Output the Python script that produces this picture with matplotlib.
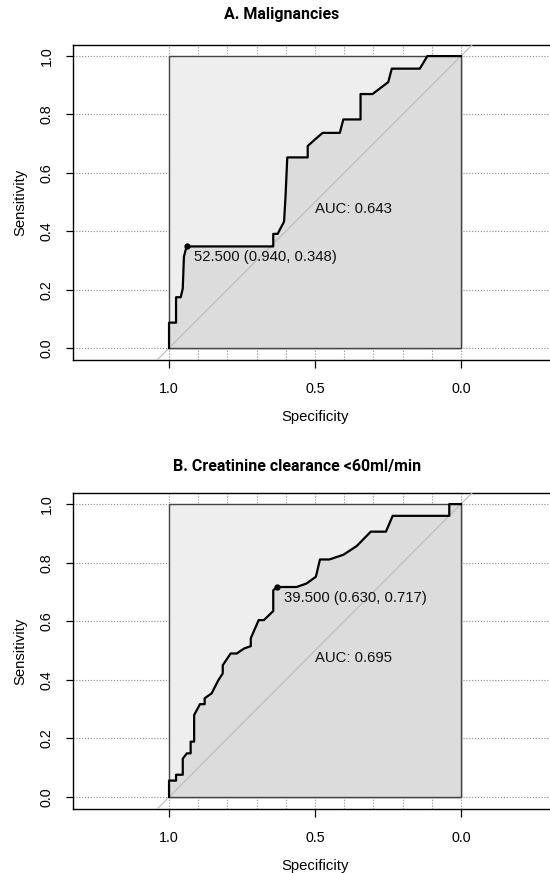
import matplotlib
matplotlib.use("Agg")
import matplotlib.pyplot as plt

plt.rcParams['font.family'] = ['Liberation Sans', 'DejaVu Sans']

# ROC curve vertices (specificity, sensitivity)
spec_a = [1.0, 1.0, 0.976, 0.976, 0.960, 0.953, 0.949, 0.940, 0.643, 0.643,
          0.628, 0.606, 0.601, 0.595, 0.525, 0.525, 0.505, 0.474, 0.415, 0.403,
          0.344, 0.344, 0.303, 0.278, 0.249, 0.237, 0.141, 0.115, 0.0]
sens_a = [0.0, 0.087, 0.087, 0.174, 0.174, 0.204, 0.313, 0.348, 0.348, 0.391,
          0.391, 0.433, 0.518, 0.653, 0.653, 0.692, 0.710, 0.737, 0.737, 0.783,
          0.783, 0.870, 0.870, 0.889, 0.911, 0.957, 0.957, 1.0, 1.0]

spec_b = [1.0, 1.0, 0.976, 0.976, 0.953, 0.953, 0.939, 0.926, 0.926, 0.914,
          0.914, 0.894, 0.878, 0.878, 0.854, 0.831, 0.816, 0.816, 0.789, 0.768,
          0.743, 0.720, 0.720, 0.693, 0.675, 0.643, 0.643, 0.630, 0.563, 0.529,
          0.497, 0.483, 0.451, 0.403, 0.357, 0.309, 0.257, 0.234, 0.040, 0.040, 0.0]
sens_b = [0.0, 0.056, 0.056, 0.076, 0.076, 0.131, 0.149, 0.149, 0.189, 0.189,
          0.280, 0.317, 0.317, 0.337, 0.354, 0.399, 0.422, 0.450, 0.490, 0.490,
          0.507, 0.515, 0.542, 0.604, 0.604, 0.635, 0.706, 0.717, 0.717, 0.729,
          0.752, 0.811, 0.811, 0.827, 0.857, 0.906, 0.906, 0.960, 0.960, 1.0, 1.0]

titles = ["A. Malignancies", "B. Creatinine clearance <60ml/min"]
title_x = [282, 297]          # pixel centre of each title
title_y = [14, 467]
auc_values = [0.643, 0.695]
best_threshold = [52.5, 39.5]
best_point = [(0.940, 0.348), (0.630, 0.717)]

W, H = 550, 873
fig = plt.figure(figsize=(W / 100, H / 100), dpi=100)


def draw_roc(ax, spec, sens, auc, thr, pt):
    ax.set_xlim(1.329, -0.329)
    ax.set_ylim(-0.041, 1.038)

    # grid first so the polygons cover it
    for y in [0, 0.2, 0.4, 0.6, 0.8, 1.0]:
        ax.axhline(y, color='#8a8a8a', lw=0.8, ls=(0, (1, 1.6)), zorder=0)
    for x in [i / 10 for i in range(11)]:
        ax.axvline(x, color='#8a8a8a', lw=0.8, ls=(0, (1, 1.6)), zorder=0)

    # max AUC square and AUC polygon
    ax.fill([1, 1, 0, 0], [0, 1, 1, 0], facecolor='#eeeeee',
            edgecolor='#444444', lw=1, zorder=1)
    ax.fill(spec + [0, 1], sens + [0, 0], facecolor='#dcdcdc',
            edgecolor='none', zorder=2)
    ax.plot([1, 0, 0], [0, 0, 1], color='#444444', lw=1, zorder=2.5)

    ax.axline((1, 0), (0, 1), color='#bbbbbb', lw=0.8, zorder=3)
    ax.plot(spec, sens, color='black', lw=1.6, zorder=4)

    ax.plot(pt[0], pt[1], 'o', color='black', ms=3.5, zorder=5)
    ax.annotate(f"{thr:.3f} ({pt[0]:.3f}, {pt[1]:.3f})", xy=pt,
                xytext=(7, -11), textcoords='offset pixels',
                ha='left', va='center', fontsize=10.7, color='#111111', zorder=6)
    ax.text(0.5, 0.475, f"AUC: {auc:.3f}", ha='left', va='center',
            fontsize=10.7, color='#111111', zorder=6)

    ax.set_xticks([1.0, 0.5, 0.0])
    ax.set_xticklabels(['1.0', '0.5', '0.0'])
    ax.set_yticks([0, 0.2, 0.4, 0.6, 0.8, 1.0])
    ax.set_yticklabels(['0.0', '0.2', '0.4', '0.6', '0.8', '1.0'],
                       rotation=90, va='center')
    ax.tick_params(axis='x', length=6, width=0.9, pad=10, labelsize=10.3)
    ax.tick_params(axis='y', length=5, width=0.9, pad=9, labelsize=10.3)
    ax.set_xlabel('Specificity', fontsize=10.7, labelpad=10)
    ax.set_ylabel('Sensitivity', fontsize=10.7, labelpad=9)
    ax.spines['right'].set_visible(False)
    for s in ax.spines.values():
        s.set_linewidth(1.0)


# axes placed in pixels: right edge runs off the picture, as in the reference
boxes = [(73, 45, 557, 360), (73, 493, 557, 809)]
panels = [(spec_a, sens_a), (spec_b, sens_b)]
for i, (l, t, r, b) in enumerate(boxes):
    ax = fig.add_axes([l / W, 1 - b / H, (r - l) / W, (b - t) / H])
    draw_roc(ax, panels[i][0], panels[i][1], auc_values[i],
             best_threshold[i], best_point[i])
    fig.text(title_x[i] / W, 1 - title_y[i] / H, titles[i], ha='center',
             va='center', fontsize=11.5, fontweight='bold', family='Roboto')

fig.savefig('out.png', dpi=100)
